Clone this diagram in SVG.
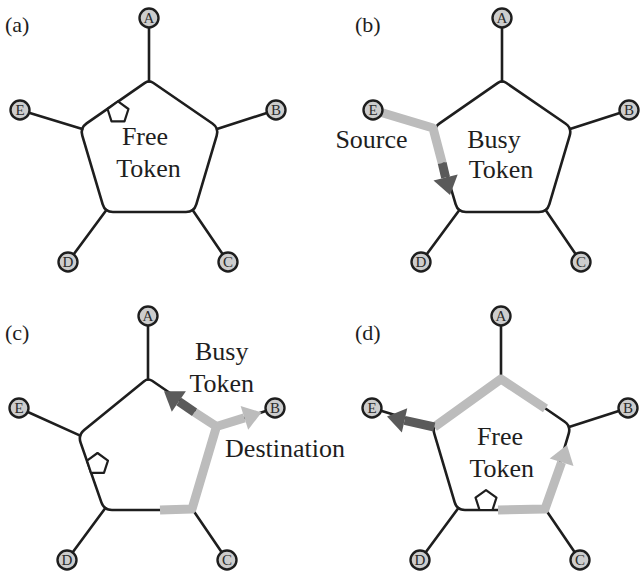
<svg xmlns="http://www.w3.org/2000/svg" xmlns:xlink="http://www.w3.org/1999/xlink" width="641" height="576" viewBox="0 0 641 576">
<style>
.ring{fill:none;stroke:#1e1e1e;stroke-width:2.6;stroke-linejoin:round}
.spoke line{stroke:#1e1e1e;stroke-width:2.6;stroke-linecap:round}
.node circle{fill:#cdcdcd;stroke:#1e1e1e;stroke-width:2.4}
.node text{font-family:"Liberation Serif","Times New Roman",serif;font-size:15px;fill:#2a2a2a;text-anchor:middle}
.lbl{font-family:"Liberation Serif","Times New Roman",serif;font-size:26px;fill:#1e1e1e;text-anchor:middle}
.plbl{font-family:"Liberation Serif","Times New Roman",serif;font-size:22px;fill:#1e1e1e}
.lite{fill:none;stroke:#bcbcbc;stroke-width:9;stroke-linejoin:round}
.dark{fill:none;stroke:#5a5a5a;stroke-width:9}
.litehead{fill:#bcbcbc}
.darkhead{fill:#5a5a5a}
.tok{fill:#fff;stroke:#1e1e1e;stroke-width:2.2;stroke-linejoin:round}
</style>
<defs>
<path id="ring" class="ring" d="M153.1,82.8 L212.4,123.5 Q219,128 216.7,135.7 L196.3,204.3 Q194,212 186,212 L113,212 Q105,212 102.7,204.3 L82.3,135.7 Q80,128 86.6,123.4 L144.9,82.9 Q149,80 153.1,82.8 Z"/>
<g id="spokes-top" class="spoke">
<line x1="149" y1="18" x2="149" y2="81.4"/>
<line x1="276" y1="110" x2="217" y2="129"/>
<line x1="228" y1="262" x2="192.6" y2="210"/>
<line x1="68" y1="262" x2="106.4" y2="210"/>
</g>
<polygon id="tok" class="tok" points="0,-11 10.46,-3.4 6.47,8.9 -6.47,8.9 -10.46,-3.4"/>
<g id="stations">
<g class="node"><circle cx="149" cy="18" r="9.5"/><text x="149" y="23">A</text></g>
<g class="node"><circle cx="276" cy="110" r="9.5"/><text x="276" y="115">B</text></g>
<g class="node"><circle cx="228" cy="262" r="9.5"/><text x="228" y="267">C</text></g>
<g class="node"><circle cx="68" cy="262" r="9.5"/><text x="68" y="267">D</text></g>
<g class="node"><circle cx="20" cy="110" r="9.5"/><text x="20" y="115">E</text></g>
</g>
</defs>

<!-- Panel labels -->
<text class="plbl" x="5" y="32">(a)</text>
<text class="plbl" x="355" y="32">(b)</text>
<text class="plbl" x="5" y="340">(c)</text>
<text class="plbl" x="355" y="340">(d)</text>

<!-- Panel (a) -->
<g id="panel-a">
<g id="a-connectors">
<use xlink:href="#ring"/>
<use xlink:href="#spokes-top"/>
<g class="spoke"><line x1="20" y1="110" x2="82.3" y2="129"/></g>
</g>
<g id="a-token"><use xlink:href="#tok" transform="translate(118,112.4)"/></g>
<g id="a-nodes"><use xlink:href="#stations"/></g>
<text class="lbl" x="145" y="145">Free</text>
<text class="lbl" x="148.5" y="177">Token</text>
</g>

<!-- Panel (b) -->
<g id="panel-b" transform="translate(353,0)">
<g id="b-connectors">
<use xlink:href="#ring"/>
<use xlink:href="#spokes-top"/>
<g class="spoke"><line x1="20" y1="110" x2="82.3" y2="129"/></g>
<path class="lite" d="M20,110 L80,128 L89.2,163"/>
<path class="dark" d="M89.2,163 L92.6,177.5"/>
<polygon class="darkhead" points="97,195 104.7,174.4 80.5,180.6"/>
</g>
<g id="b-nodes"><use xlink:href="#stations"/></g>
<text class="lbl" x="141" y="148">Busy</text>
<text class="lbl" x="148" y="178">Token</text>
<text class="lbl" x="18.5" y="148">Source</text>
</g>

<!-- Panel (c) -->
<g id="panel-c" transform="translate(-1,298)">
<g id="c-connectors">
<path class="ring" d="M153.1,82.8 L212.4,123.5 Q219,128 216.7,135.7 L196.3,204.3 Q194,212 186,212 L113,212 Q105,212 102.4,204.4 L81.6,144.6 Q79,137 85.2,132 L145.1,83.2 Q149,80 153.1,82.8 Z"/>
<use xlink:href="#spokes-top"/>
<g class="spoke"><line x1="20" y1="110" x2="81.2" y2="137.6"/></g>
<path class="lite" d="M161,212 L193,211 L217.5,128.5 L195.55,114.28"/>
<path class="lite" d="M217.5,128.5 L245.4,119.9"/>
<polygon class="litehead" points="262.5,114.4 249.2,131.8 241.6,108"/>
<path class="dark" d="M195.55,114.28 L179.85,103.5"/>
<polygon class="darkhead" points="165,93.3 186.9,93.2 172.8,113.8"/>
</g>
<g id="c-token"><use xlink:href="#tok" transform="translate(98.5,166)"/></g>
<g id="c-nodes"><use xlink:href="#stations"/></g>
<text class="lbl" x="222.7" y="62">Busy</text>
<text class="lbl" x="222.7" y="93.7">Token</text>
<text class="lbl" x="286" y="158.7">Destination</text>
</g>

<!-- Panel (d) -->
<g id="panel-d" transform="translate(352,298)">
<g id="d-connectors">
<use xlink:href="#ring"/>
<use xlink:href="#spokes-top"/>
<g class="spoke"><line x1="20" y1="110" x2="82.3" y2="129"/></g>
<path class="lite" d="M82.3,129 L149,81 L193.5,110.6"/>
<path class="lite" d="M146,212 L193,211 L209.6,164.2"/>
<polygon class="litehead" points="215,147 221.5,168 197.7,160.5"/>
<path class="dark" d="M82.3,129 L52.55,122.4"/>
<polygon class="darkhead" points="35,118.5 55.25,110.2 49.85,134.6"/>
</g>
<g id="d-token"><use xlink:href="#tok" transform="translate(134,203.1)"/></g>
<g id="d-nodes"><use xlink:href="#stations"/></g>
<text class="lbl" x="148" y="147">Free</text>
<text class="lbl" x="149.7" y="178.7">Token</text>
</g>
</svg>
